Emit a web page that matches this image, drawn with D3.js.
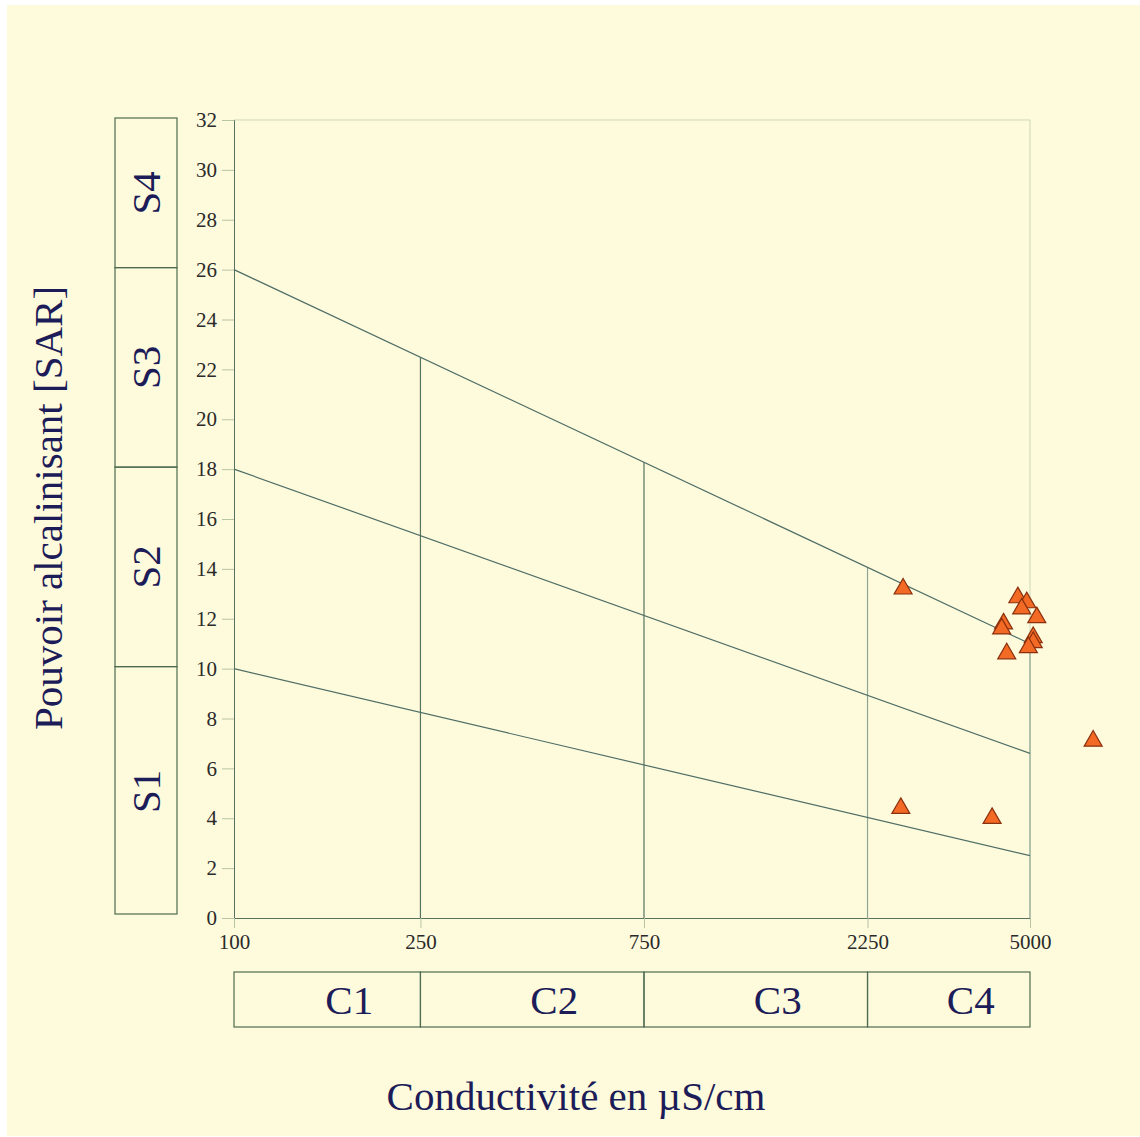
<!DOCTYPE html>
<html><head><meta charset="utf-8">
<script src="https://cdn.jsdelivr.net/npm/d3@7"></script>
<style>
html,body{margin:0;padding:0;background:#fff;}
svg{display:block;}
text{font-family:"Liberation Serif","DejaVu Serif",serif;}
</style></head>
<body>
<script>
// ---- data ----
const conductivity = [2680, 4710, 4920, 4800, 5170, 4390, 4350, 5080, 5080, 4960, 4460, 6820, 2650, 4150];
const sar          = [13.2, 12.85, 12.65, 12.4, 12.05, 11.8, 11.6, 11.25, 11.05, 10.85, 10.6, 7.1, 4.4, 4.0];
const xTicks = [100, 250, 750, 2250, 5000];
const yTicks = [0, 2, 4, 6, 8, 10, 12, 14, 16, 18, 20, 22, 24, 26, 28, 30, 32];
// Sodium hazard boundary lines: SAR at 100 and at 5000 µS/cm
const boundaryStart = [10, 18, 26];
const boundaryEnd   = [2.5, 6.6, 11.0];
const sClasses = ["S1", "S2", "S3", "S4"];
const sLimits  = [0, 10, 18, 26, 32];
const cClasses = ["C1", "C2", "C3", "C4"];
const cLimits  = [100, 250, 750, 2250, 5000];

const W = 1140, H = 1137;
const svg = d3.select("body").append("svg").attr("width", W).attr("height", H);
svg.append("rect").attr("x", 7).attr("y", 5).attr("width", W - 7).attr("height", 1131).attr("fill", "#fefadc");

const x = d3.scaleLog().domain([100, 5000]).range([234, 1030]);
const y = d3.scaleLinear().domain([0, 32]).range([918, 120]);
const navy = "#1c1c58", lineCol = "#56735f", faint = "#cdd9b8";

function bound(i, c) {
  const t = Math.log10(c / 100) / Math.log10(50);
  return boundaryStart[i] + (boundaryEnd[i] - boundaryStart[i]) * t;
}

// frame (faint top and right)
svg.append("line").attr("x1", x(100)).attr("x2", x(5000)).attr("y1", y(32)).attr("y2", y(32)).attr("stroke", faint);
svg.append("line").attr("x1", x(5000)).attr("x2", x(5000)).attr("y1", y(32)).attr("y2", y(0)).attr("stroke", faint);

// axes
const yAxis = d3.axisLeft(y).tickValues(yTicks).tickSize(12).tickPadding(5).tickFormat(d3.format("d"));
const gy = svg.append("g").attr("transform", `translate(${x(100)},0)`).call(yAxis);
gy.select(".domain").attr("stroke", lineCol);
gy.selectAll(".tick line").attr("stroke", "#b8c4a4");
gy.selectAll(".tick text").attr("font-size", 21).attr("fill", "#2a2a2a").attr("font-family", "Liberation Serif, serif");

const xAxis = d3.axisBottom(x).tickValues(xTicks).tickSize(10).tickPadding(6).tickFormat(d3.format("d"));
const gx = svg.append("g").attr("transform", `translate(0,${y(0)})`).call(xAxis);
gx.select(".domain").attr("stroke", lineCol);
gx.selectAll(".tick line").attr("stroke", "#b8c4a4");
gx.selectAll(".tick text").attr("font-size", 21).attr("fill", "#2a2a2a").attr("font-family", "Liberation Serif, serif");

// vertical class limits up to top boundary
svg.selectAll("line.vlim").data(cLimits.slice(1)).enter().append("line")
  .attr("x1", d => x(d)).attr("x2", d => x(d))
  .attr("y1", y(0)).attr("y2", d => y(bound(2, d)))
  .attr("stroke", (d, i) => i < 2 ? lineCol : "#8fa696").attr("stroke-width", 1.2);

// boundary lines
const lineGen = d3.line().x(d => x(d[0])).y(d => y(d[1]));
boundaryStart.forEach((b, i) => {
  svg.append("path").attr("d", lineGen([[100, boundaryStart[i]], [5000, boundaryEnd[i]]]))
    .attr("fill", "none").attr("stroke", "#4f6e66").attr("stroke-width", 1.2);
});

// S class boxes
const sx0 = 115, sx1 = 177;
svg.selectAll("rect.sbox").data(sClasses).enter().append("rect")
  .attr("x", sx0).attr("width", sx1 - sx0)
  .attr("y", (d, i) => y(sLimits[i + 1]) - 2)
  .attr("height", (d, i) => y(sLimits[i]) - y(sLimits[i + 1]) - (i === 0 ? 2 : 0))
  .attr("fill", "none").attr("stroke", "#4d6b4f").attr("stroke-width", 1.2);
svg.selectAll("text.slab").data(sClasses).enter().append("text")
  .attr("transform", (d, i) => `translate(${(sx0 + sx1) / 2 + 14},${(y(sLimits[i]) + y(sLimits[i + 1])) / 2 - 2}) rotate(-90)`)
  .attr("text-anchor", "middle").attr("font-size", 41).attr("fill", navy).text(d => d);

// C class boxes
const cy0 = 972, cy1 = 1027;
svg.selectAll("rect.cbox").data(cClasses).enter().append("rect")
  .attr("x", (d, i) => x(cLimits[i])).attr("width", (d, i) => x(cLimits[i + 1]) - x(cLimits[i]))
  .attr("y", cy0).attr("height", cy1 - cy0)
  .attr("fill", "none").attr("stroke", "#4d6b4f").attr("stroke-width", 1.2);
svg.selectAll("text.clab").data(cClasses).enter().append("text")
  .attr("x", (d, i) => (x(cLimits[i]) + x(cLimits[i + 1])) / 2 + 22)
  .attr("y", 1014).attr("text-anchor", "middle").attr("font-size", 41).attr("fill", navy).text(d => d);

// points
svg.selectAll("path.pt").data(conductivity).enter().append("path")
  .attr("d", d3.symbol().type(d3.symbolTriangle).size(140))
  .attr("transform", (d, i) => `translate(${x(d)},${y(sar[i])})`)
  .attr("fill", "#f26a24").attr("stroke", "#8a300e").attr("stroke-width", 1.2);

// axis titles
svg.append("text").attr("transform", `translate(62,508) rotate(-90)`)
  .attr("text-anchor", "middle").attr("font-size", 41).attr("fill", navy).text("Pouvoir alcalinisant [SAR]");
svg.append("text").attr("x", 576).attr("y", 1110)
  .attr("text-anchor", "middle").attr("font-size", 41).attr("fill", navy).text("Conductivité en µS/cm");
</script>
</body></html>
